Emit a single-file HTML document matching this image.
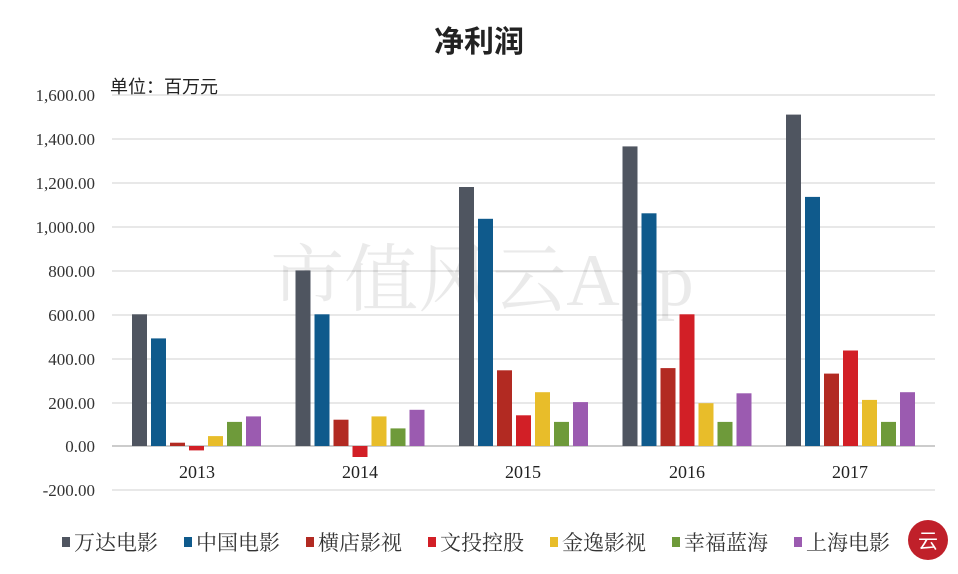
<!DOCTYPE html>
<html><head><meta charset="utf-8"><style>body{margin:0;background:#fff}svg{display:block}text{font-family:"Liberation Serif","Noto Serif CJK SC",serif}</style></head>
<body>
<svg width="958" height="574" viewBox="0 0 958 574" xmlns="http://www.w3.org/2000/svg">
<rect width="958" height="574" fill="#fff"/>
<text x="479" y="52" text-anchor="middle" font-size="30" font-weight="bold" fill="#222" style="font-family:'Liberation Sans','Noto Sans CJK SC',sans-serif">净利润</text>
<text x="110" y="93" font-size="18" fill="#222" style="font-family:'Liberation Sans','Noto Sans CJK SC',sans-serif">单位：百万元</text>
<g stroke="#d9d9d9" stroke-width="1.3">
<line x1="112" x2="935" y1="95" y2="95"/><line x1="112" x2="935" y1="139" y2="139"/><line x1="112" x2="935" y1="183" y2="183"/><line x1="112" x2="935" y1="227" y2="227"/><line x1="112" x2="935" y1="271" y2="271"/><line x1="112" x2="935" y1="315" y2="315"/><line x1="112" x2="935" y1="359" y2="359"/><line x1="112" x2="935" y1="403" y2="403"/><line x1="112" x2="935" y1="490" y2="490"/>
</g>
<line x1="112" x2="935" y1="446" y2="446" stroke="#bbb" stroke-width="1.5"/>
<g font-size="17" fill="#333" text-anchor="end">
<text x="95" y="101">1,600.00</text><text x="95" y="145">1,400.00</text><text x="95" y="189">1,200.00</text><text x="95" y="233">1,000.00</text><text x="95" y="277">800.00</text><text x="95" y="321">600.00</text><text x="95" y="365">400.00</text><text x="95" y="409">200.00</text><text x="95" y="452">0.00</text><text x="95" y="496">-200.00</text>
</g>
<text x="482" y="305" font-size="74" fill="#000" opacity="0.08" text-anchor="middle">市值风云App</text>
<g>
<rect x="132" y="314.3" width="15" height="131.7" fill="#4f5560"/>
<rect x="151" y="338.4" width="15" height="107.6" fill="#0f5a8c"/>
<rect x="170" y="442.7" width="15" height="3.3" fill="#b22a22"/>
<rect x="189" y="446" width="15" height="4.4" fill="#d21f26"/>
<rect x="208" y="436.1" width="15" height="9.9" fill="#e8bd2a"/>
<rect x="227" y="421.9" width="15" height="24.1" fill="#6e9a3a"/>
<rect x="246" y="416.4" width="15" height="29.6" fill="#9b5bb0"/>

<rect x="295.5" y="270.4" width="15" height="175.6" fill="#4f5560"/>
<rect x="314.5" y="314.3" width="15" height="131.7" fill="#0f5a8c"/>
<rect x="333.5" y="419.7" width="15" height="26.3" fill="#b22a22"/>
<rect x="352.5" y="446" width="15" height="11" fill="#d21f26"/>
<rect x="371.5" y="416.4" width="15" height="29.6" fill="#e8bd2a"/>
<rect x="390.5" y="428.4" width="15" height="17.6" fill="#6e9a3a"/>
<rect x="409.5" y="409.8" width="15" height="36.2" fill="#9b5bb0"/>

<rect x="459" y="187" width="15" height="259" fill="#4f5560"/>
<rect x="478" y="218.8" width="15" height="227.2" fill="#0f5a8c"/>
<rect x="497" y="370.3" width="15" height="75.7" fill="#b22a22"/>
<rect x="516" y="415.3" width="15" height="30.7" fill="#d21f26"/>
<rect x="535" y="392.2" width="15" height="53.8" fill="#e8bd2a"/>
<rect x="554" y="421.9" width="15" height="24.1" fill="#6e9a3a"/>
<rect x="573" y="402.1" width="15" height="43.9" fill="#9b5bb0"/>

<rect x="622.5" y="146.4" width="15" height="299.6" fill="#4f5560"/>
<rect x="641.5" y="213.3" width="15" height="232.7" fill="#0f5a8c"/>
<rect x="660.5" y="368.1" width="15" height="77.9" fill="#b22a22"/>
<rect x="679.5" y="314.3" width="15" height="131.7" fill="#d21f26"/>
<rect x="698.5" y="403.2" width="15" height="42.8" fill="#e8bd2a"/>
<rect x="717.5" y="421.9" width="15" height="24.1" fill="#6e9a3a"/>
<rect x="736.5" y="393.3" width="15" height="52.7" fill="#9b5bb0"/>

<rect x="786" y="114.6" width="15" height="331.4" fill="#4f5560"/>
<rect x="805" y="196.9" width="15" height="249.1" fill="#0f5a8c"/>
<rect x="824" y="373.6" width="15" height="72.4" fill="#b22a22"/>
<rect x="843" y="350.5" width="15" height="95.5" fill="#d21f26"/>
<rect x="862" y="399.9" width="15" height="46.1" fill="#e8bd2a"/>
<rect x="881" y="421.9" width="15" height="24.1" fill="#6e9a3a"/>
<rect x="900" y="392.2" width="15" height="53.8" fill="#9b5bb0"/>
</g>
<g font-size="18" fill="#222" text-anchor="middle">
<text x="197" y="478">2013</text><text x="360" y="478">2014</text><text x="523" y="478">2015</text><text x="687" y="478">2016</text><text x="850" y="478">2017</text>
</g>
<g font-size="21" fill="#333" style="font-family:'Liberation Sans','Noto Sans CJK SC',sans-serif">
<rect x="62" y="537" width="8" height="10" fill="#4f5560"/><text x="74" y="550">万达电影</text>
<rect x="184" y="537" width="8" height="10" fill="#0f5a8c"/><text x="196" y="550">中国电影</text>
<rect x="306" y="537" width="8" height="10" fill="#b22a22"/><text x="318" y="550">横店影视</text>
<rect x="428" y="537" width="8" height="10" fill="#d21f26"/><text x="440" y="550">文投控股</text>
<rect x="550" y="537" width="8" height="10" fill="#e8bd2a"/><text x="562" y="550">金逸影视</text>
<rect x="672" y="537" width="8" height="10" fill="#6e9a3a"/><text x="684" y="550">幸福蓝海</text>
<rect x="794" y="537" width="8" height="10" fill="#9b5bb0"/><text x="806" y="550">上海电影</text>
</g>
<circle cx="928" cy="540" r="20" fill="#c0202a"/><text x="928" y="548" text-anchor="middle" font-size="20" fill="#fff" style="font-family:'Noto Sans CJK SC',sans-serif">云</text>
</svg>
</body></html>
